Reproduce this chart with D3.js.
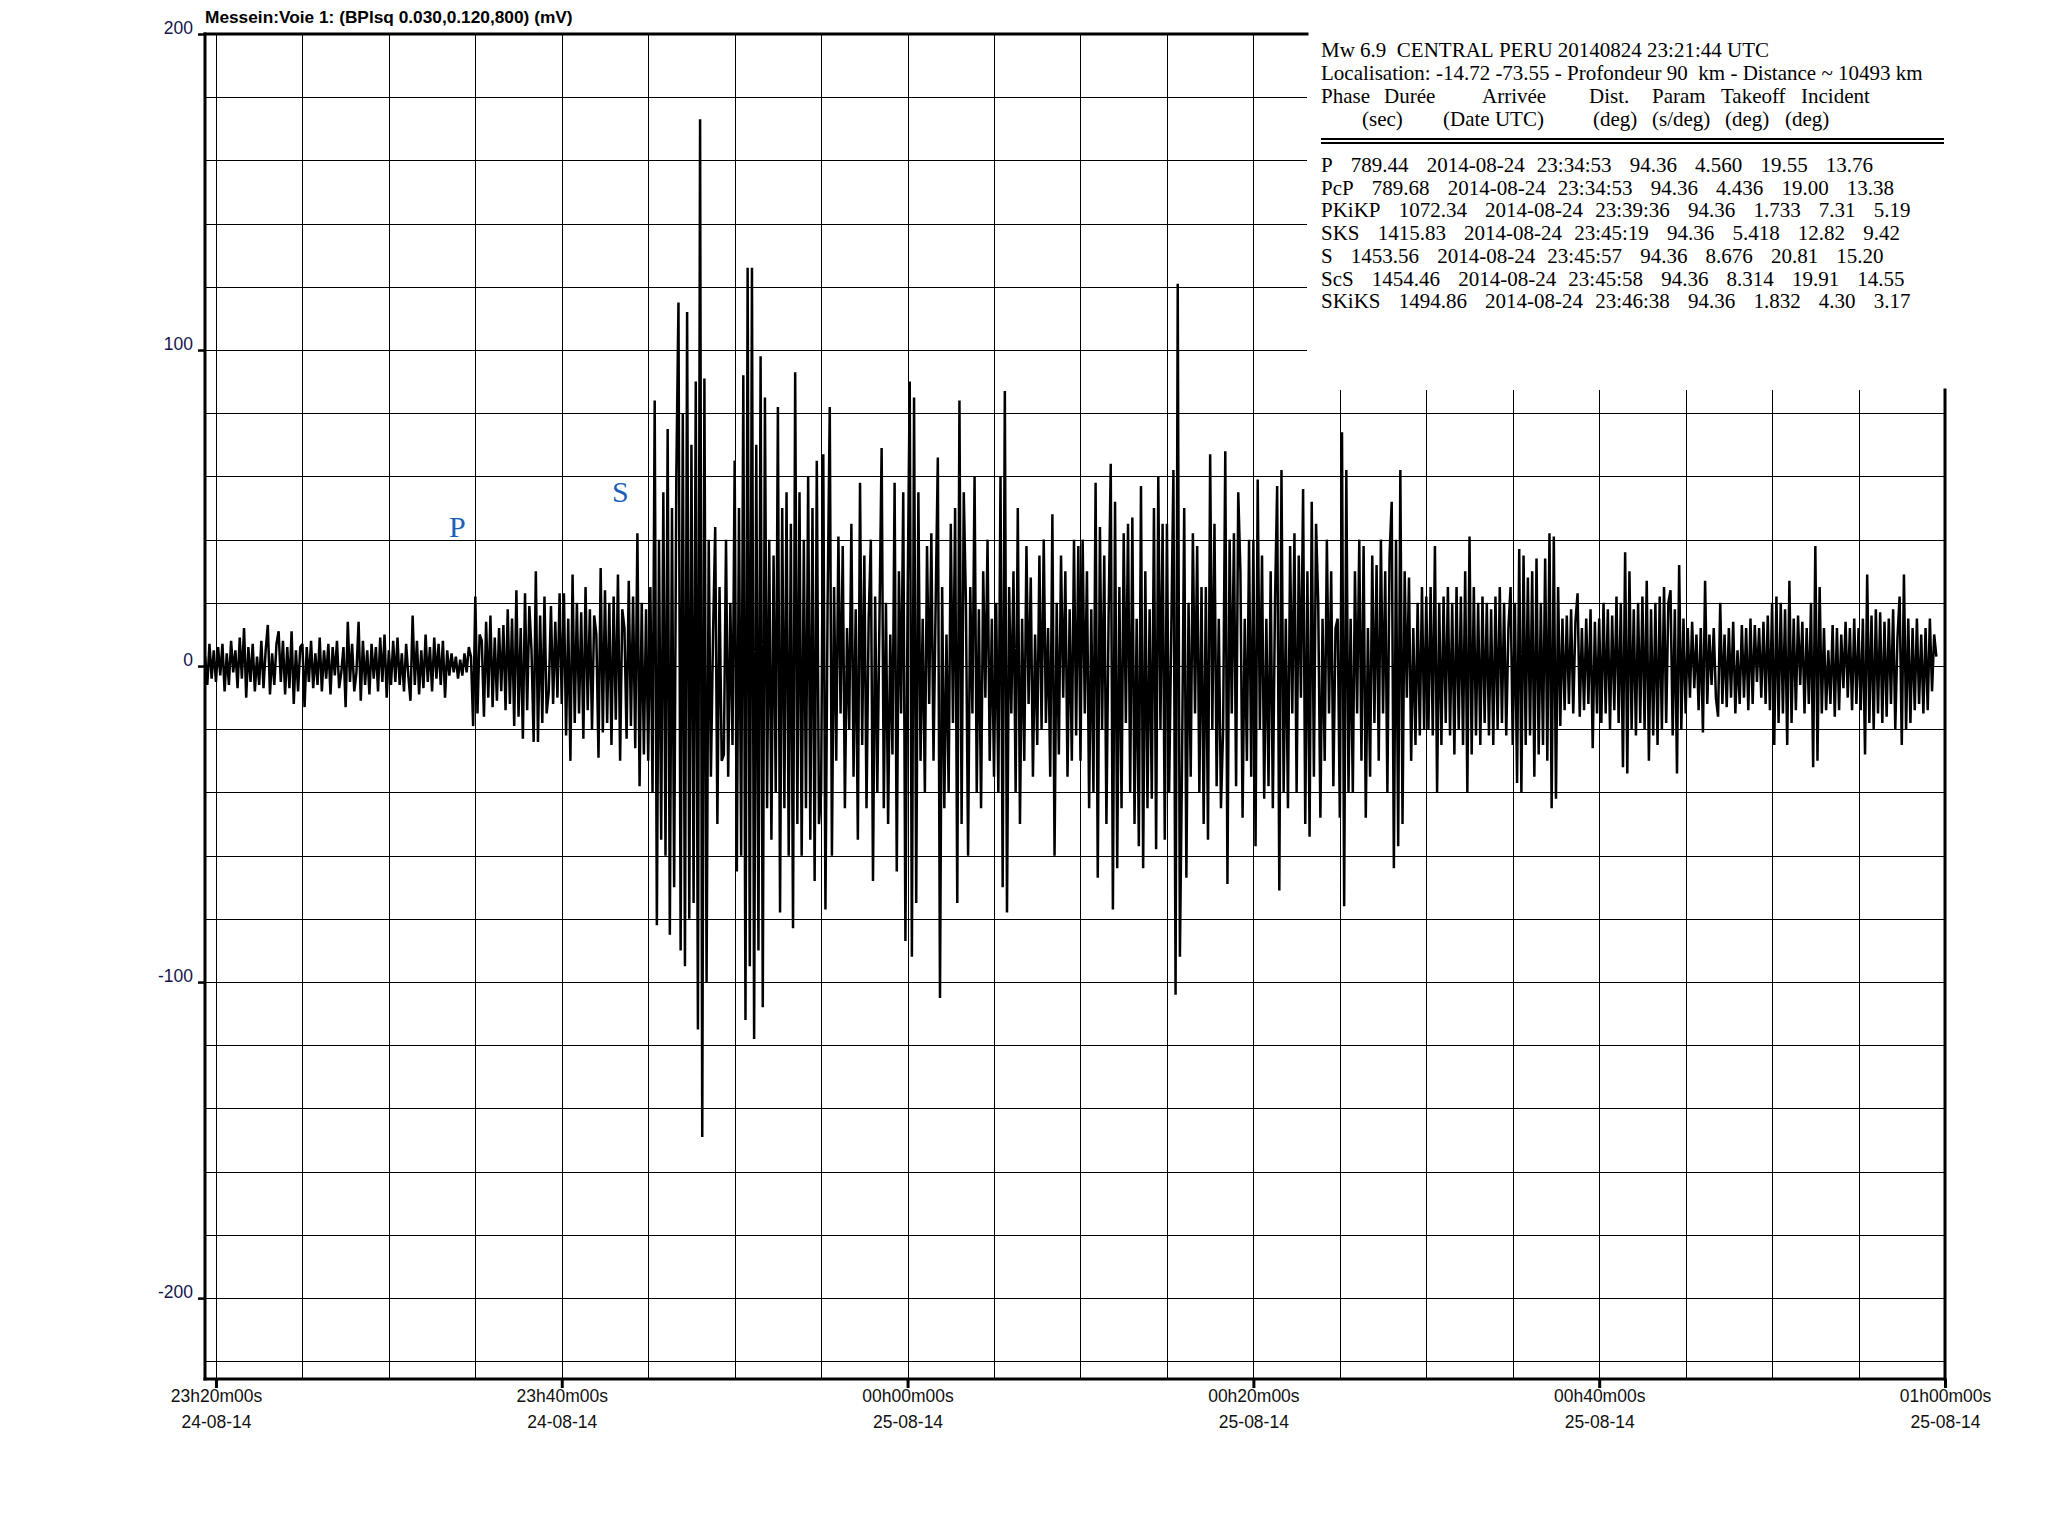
<!DOCTYPE html>
<html><head><meta charset="utf-8">
<script src="https://cdn.jsdelivr.net/npm/d3@7/dist/d3.min.js"></script>
<style>html,body{margin:0;padding:0;background:#fff;} svg{display:block;}</style>
</head><body>
<svg id="chart" width="2048" height="1533"></svg>
<script>
// ---------------- DATA ----------------
const chartTitle = "Messein:Voie 1: (BPlsq 0.030,0.120,800) (mV)";
const yTickValues = [200, 100, 0, -100, -200];
const xTickTimes = ["2014-08-24T23:20:00Z","2014-08-24T23:40:00Z","2014-08-25T00:00:00Z","2014-08-25T00:20:00Z","2014-08-25T00:40:00Z","2014-08-25T01:00:00Z"];
const xDomain = ["2014-08-24T23:19:22Z", "2014-08-25T01:00:00Z"];
const yDomain = [-225.6, 200];

const eventLines = [
  "Mw 6.9  CENTRAL PERU 20140824 23:21:44 UTC",
  "Localisation: -14.72 -73.55 - Profondeur 90  km - Distance ~ 10493 km"
];
const headerLabels = ["Phase", "Durée", "Arrivée", "Dist.", "Param", "Takeoff", "Incident"];
const unitLabels = ["(sec)", "(Date UTC)", "(deg)", "(s/deg)", "(deg)", "(deg)"];
const phaseNames = ["P", "PcP", "PKiKP", "SKS", "S", "ScS", "SKiKS"];
const phaseDurations = ["789.44", "789.68", "1072.34", "1415.83", "1453.56", "1454.46", "1494.86"];
const phaseDates = ["2014-08-24","2014-08-24","2014-08-24","2014-08-24","2014-08-24","2014-08-24","2014-08-24"];
const phaseTimes = ["23:34:53", "23:34:53", "23:39:36", "23:45:19", "23:45:57", "23:45:58", "23:46:38"];
const phaseDist = ["94.36","94.36","94.36","94.36","94.36","94.36","94.36"];
const phaseParam = ["4.560", "4.436", "1.733", "5.418", "8.676", "8.314", "1.832"];
const phaseTakeoff = ["19.55", "19.00", "7.31", "12.82", "20.81", "19.91", "4.30"];
const phaseIncident = ["13.76", "13.38", "5.19", "9.42", "15.20", "14.55", "3.17"];
const phaseMarks = ["P", "S"];

// trace: extremes, one value every 7.5 s starting 23:19:22.5
const traceStart = "2014-08-24T23:19:22.5Z";
const traceStepSec = 7.5;
const trace_2319 = [3, -6, 7, -4, 5];
const trace_2320 = [-5, 6, -3, 7, -8, 4, -6, 8, -2, 5, -7, 9, -4, 12, -10, 6, -5, 7, -8, 3, -6, 8, -7, 5, 13, -9, 4, -6, 7, 11, -5, 8, -9, 6, -7, 11, -12, 5, -8, 6];
const trace_2325 = [7, -13, 6, -5, 8, -7, 4, -6, 9, -8, 5, -4, 7, -9, 6, -3, 8, -7, -2, 6, -13, 14, -5, 7, -8, -2, 14, -11, 8, -6, 5, -9, 7, -4, 6, -8, 9, -5, 10, -10];
const trace_2330 = [5, -6, 8, -5, 9, -6, 4, -8, 7, -3, -11, 16, -6, 8, -9, 5, -7, 10, -5, 6, -8, 9, -4, 7, -6, 8, -10, 5, -3, 4, -2, 3, -4, 2, -3, 4, -2, 6, 3, -19];
const trace_2335 = [22, -15, 10, 8, -16, 14, -10, 16, -13, 9, -11, 12, -8, 13, -14, 18, -12, 15, -19, 24, -16, 12, -23, 23, -14, 19, 5, -24, 30, -24, 16, -18, 22, -15, -8, 19, -12, 14, -10, 23];
const trace_2340 = [-12, 23, -22, 15, -30, 29, -18, 20, -15, 17, -23, 25, -14, 18, -20, 16, 10, -29, 31, -21, 24, -18, 20, -25, 22, -17, 29, -30, 18, 12, -23, 27, -19, 22, -26, 42, -38, 20, -28, 18];
const trace_2345 = [-30, 25, -40, 84, -82, 40, -55, 55, -60, 75, -85, 50, -70, 60, 115, -90, 80, -95, 112, -80, 70, -75, 90, -115, 173, -149, 91, -100, 40, -35, 10, 44, -50, 25, -30, -28, 40, -35, 20, -25];
const trace_2350 = [65, -65, 50, -60, 92, -112, 126, -95, 126, -118, 70, -90, 98, -108, 85, -45, 40, -55, 35, -40, 82, -78, 50, -45, 55, -60, 45, -83, 93, -50, 55, -60, 40, -45, 60, -55, 50, -68, 65, -50];
const trace_2355 = [-40, 67, -77, 20, 82, -60, 25, -30, 41, -15, 38, -45, 12, -20, 45, -35, 18, -55, 58, -25, 35, -45, 15, 40, -68, 22, -40, 15, 69, -45, 20, -50, 10, -28, 58, -65, 30, -15, 55, -87];
const trace_0000 = [20, 90, -92, 85, -75, 55, -30, 15, -40, 38, -12, 42, -30, 20, 66, -105, 25, -45, 10, -40, 45, -18, 50, -75, 84, -50, 55, 20, -60, 25, -15, 60, -40, 18, -45, 30, -10, 40, -30, 15];
const trace_0005 = [-35, 20, -40, 60, -70, 87, -78, 25, -15, 30, -40, 50, -50, 15, -30, 38, -12, 28, -35, 10, -25, 35, -20, 40, -18, 12, -35, 48, -60, 20, -28, 35, -10, 30, -35, 18, -30, 40, -22, 38];
const trace_0010 = [-30, 40, -15, 30, -45, 18, -40, 58, -67, 44, -20, 35, -50, 15, 64, -77, 52, -64, 25, -45, 42, -18, 45, -40, 47, -50, 15, -57, 57, -64, 30, -45, 18, -42, 50, -58, 60, -20, 45, -55];
const trace_0015 = [45, -40, 10, 62, -104, 121, -92, -30, 50, -67, 20, -35, 42, -15, 38, -40, 25, -50, 25, -55, 67, -20, 45, -38, 15, -45, -20, 68, -69, 40, -15, 42, -38, 55, 30, -48, 15, -30, 40, -35];
const trace_0020 = [40, -57, 59, -20, 35, -42, 15, -38, 30, -45, 20, 57, -71, 62, -40, 15, -45, 38, -15, 42, -40, 35, -10, 56, -50, 30, -54, 52, -35, 45, 20, -48, 15, -30, 40, -15, 30, -38, 12, 15];
const trace_0025 = [-48, 74, -76, 62, -40, 15, -40, 30, -15, 40, -30, 38, -48, 12, -35, 35, -18, 32, -30, 40, -15, 30, -40, 35, 52, -64, 40, -57, 62, -50, 30, -10, 28, -30, 12, -25, 20, -22, 25, -20];
const trace_0030 = [22, -20, 25, -22, 38, -40, 20, -25, 22, -18, 25, -22, 20, -28, 25, -20, 22, -25, 30, -40, 41, -28, 25, -22, 20, -25, 22, -18, 20, -22, 18, -25, 22, -20, 25, -18, 20, -22, 12, 25];
const trace_0035 = [-25, 20, -37, 37, -40, 35, -25, 28, -22, 30, -35, 34, -28, 20, -25, 34, -30, 42, -45, 41, -42, 25, -19, 15, -14, 16, -12, 18, -15, 14, 23, -16, 12, -14, 15, -12, 18, -26, 14, -15];
const trace_0040 = [15, -18, 20, -15, 18, -20, 16, -14, 22, -18, 20, -32, 36, -34, 30, -20, 18, -22, 20, -18, 22, -20, 27, -30, 18, -22, 20, -25, 22, -20, 25, -18, 20, 24, -22, 18, -34, 32, -20, 15];
const trace_0045 = [-15, 12, -10, 14, -7, 10, -14, 12, -21, 27, -12, 10, -6, 12, -10, -16, 20, -12, 10, -13, 12, -10, 14, -15, 5, -12, 13, -10, 12, -14, 15, -12, 13, -5, 12, -10, 14, -12, 16, -14];
const trace_0050 = [20, -25, 22, -18, 20, -15, 18, -25, 27, -18, 15, -14, 16, -6, 14, -15, 12, -12, 20, -32, 38, -30, 25, -15, 12, -14, 5, -12, 13, -16, 12, -14, 10, -7, 14, -10, 12, -14, 15, -12];
const trace_0055 = [12, -14, 15, -28, 29, -18, 16, -20, 18, -15, 17, -18, 14, -16, 15, -12, 18, -20, 9, 22, -25, 29, -20, 15, -18, 12, -14, 15, -12, 10, -15, 12, -14, 15, -8, 10, 3];

const traceValues = [].concat(trace_2319, trace_2320, trace_2325, trace_2330, trace_2335, trace_2340,
  trace_2345, trace_2350, trace_2355, trace_0000, trace_0005, trace_0010, trace_0015, trace_0020,
  trace_0025, trace_0030, trace_0035, trace_0040, trace_0045, trace_0050, trace_0055);

// ---------------- LAYOUT ----------------
const W = 2048, H = 1533;
const L = 205, R = 1945, T = 34, B = 1379;
const boxLeft = 1307, boxBottom = 390;
const sans = "'Liberation Sans', Arial, Helvetica, sans-serif";
const serif = "'Liberation Serif', 'Times New Roman', Times, serif";
const nb = s => s.replace(/ /g, "\u00A0");

const svg = d3.select("#chart");
svg.append("rect").attr("width", W).attr("height", H).attr("fill", "#fff");

const x = d3.scaleUtc().domain(xDomain.map(d => new Date(d))).range([L, R]);
const y = d3.scaleLinear().domain(yDomain).range([B, T]);

// grid
const grid = svg.append("g").attr("stroke", "#000").attr("stroke-width", 1).attr("shape-rendering", "crispEdges");
const hVals = d3.range(200, yDomain[0], -20);
grid.selectAll("line.h").data(hVals).join("line")
  .attr("x1", L).attr("x2", R).attr("y1", d => Math.round(y(d)) + 0.5).attr("y2", d => Math.round(y(d)) + 0.5);
const vTimes = d3.utcMinute.every(5).range(new Date("2014-08-24T23:20:00Z"), new Date("2014-08-25T01:00:00Z"));
grid.selectAll("line.v").data(vTimes).join("line")
  .attr("x1", d => Math.round(x(d)) + 0.5).attr("x2", d => Math.round(x(d)) + 0.5).attr("y1", T).attr("y2", B);

// info box (white) covering the grid
svg.append("rect").attr("x", boxLeft).attr("y", 0).attr("width", W - boxLeft).attr("height", boxBottom).attr("fill", "#fff");

// trace
const t0 = new Date(traceStart).getTime();
const tracePts = traceValues.map((v, i) => [new Date(t0 + i * traceStepSec * 1000), v]);
const line = d3.line().x(d => x(d[0])).y(d => y(d[1]));
svg.append("path").datum(tracePts).attr("d", line)
  .attr("fill", "none").attr("stroke", "#000").attr("stroke-width", 2.5).attr("stroke-linejoin", "miter").attr("stroke-miterlimit", 3);

// frame
const frame = svg.append("g").attr("stroke", "#000").attr("stroke-width", 3).attr("fill", "none").attr("stroke-linecap", "square");
frame.append("line").attr("x1", L).attr("x2", L).attr("y1", T).attr("y2", B);
frame.append("line").attr("x1", L).attr("x2", R).attr("y1", B).attr("y2", B);
frame.append("line").attr("x1", L).attr("x2", boxLeft).attr("y1", T).attr("y2", T);
frame.append("line").attr("x1", R).attr("x2", R).attr("y1", boxBottom).attr("y2", B);

// y axis
const yAxis = d3.axisLeft(y).tickValues(yTickValues).tickSize(7).tickPadding(5).tickFormat(d => String(d));
svg.append("g").attr("transform", `translate(${L},0)`).call(yAxis)
  .call(g => g.select(".domain").remove())
  .call(g => g.selectAll(".tick line").attr("stroke", "#000").attr("stroke-width", 2.5))
  .call(g => g.selectAll(".tick text").attr("dy", "0").attr("y", -1)
    .attr("font-family", sans).attr("font-size", 17.5).attr("fill", "#15154c"));

// x axis
const fmtTime = d3.utcFormat("%Hh%Mm%Ss");
const fmtDate = d3.utcFormat("%d-%m-%y");
const xAxis = d3.axisBottom(x).tickValues(xTickTimes.map(d => new Date(d))).tickSize(9).tickPadding(2).tickFormat(fmtTime);
const xg = svg.append("g").attr("transform", `translate(0,${B})`).call(xAxis);
xg.select(".domain").remove();
xg.selectAll(".tick line").attr("stroke", "#000").attr("stroke-width", 3);
xg.selectAll(".tick text").attr("dy", "0").attr("y", 23)
  .attr("font-family", sans).attr("font-size", 17.5).attr("fill", "#111");
xg.selectAll(".tick").append("text").attr("y", 49).attr("fill", "#111")
  .attr("font-family", sans).attr("font-size", 17.5).attr("text-anchor", "middle")
  .text(d => fmtDate(d));

// title
svg.append("text").attr("x", L).attr("y", 23).attr("font-family", sans).attr("font-weight", "bold")
  .attr("font-size", 17.3).attr("fill", "#000").text(chartTitle);

// info block
const info = svg.append("g").attr("font-family", serif).attr("font-size", 21).attr("fill", "#000");
const infoX = 1321;
info.selectAll("text.ev").data(eventLines).join("text").attr("class", "ev")
  .attr("x", infoX).attr("y", (d, i) => 57 + i * 22.5).text(d => nb(d));
const headerX = [1321, 1384, 1482, 1589, 1652, 1721, 1801];
info.selectAll("text.hd").data(headerLabels).join("text").attr("class", "hd")
  .attr("x", (d, i) => headerX[i]).attr("y", 103).text(d => d);
const unitX = [1362, 1443, 1593, 1652, 1725, 1785];
info.selectAll("text.un").data(unitLabels).join("text").attr("class", "un")
  .attr("x", (d, i) => unitX[i]).attr("y", 126).text(d => d);
svg.append("g").attr("stroke", "#000").attr("stroke-width", 1.2).attr("shape-rendering", "crispEdges")
  .selectAll("line").data([139, 143]).join("line")
  .attr("x1", infoX).attr("x2", 1944).attr("y1", d => d).attr("y2", d => d);
const rows = phaseNames.map((n, i) =>
  `${n}   ${phaseDurations[i]}   ${phaseDates[i]}  ${phaseTimes[i]}   ${phaseDist[i]}   ${phaseParam[i]}   ${phaseTakeoff[i]}   ${phaseIncident[i]}`);
info.selectAll("text.row").data(rows).join("text").attr("class", "row")
  .attr("x", infoX).attr("y", (d, i) => 172 + i * 22.7)
  .style("word-spacing", "0.8px").text(d => nb(d));

// phase marks
const markPos = [[449, 537], [612, 502]];
svg.append("g").attr("font-family", serif).attr("font-size", 30).attr("fill", "#1b5fb8")
  .selectAll("text").data(phaseMarks).join("text")
  .attr("x", (d, i) => markPos[i][0]).attr("y", (d, i) => markPos[i][1]).text(d => d);
</script>
</body></html>
